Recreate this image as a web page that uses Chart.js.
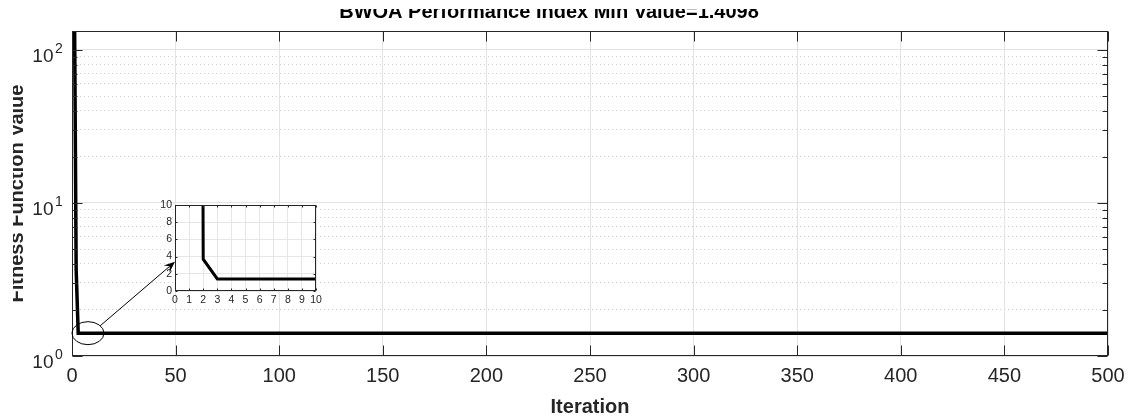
<!DOCTYPE html>
<html>
<head>
<meta charset="utf-8">
<script src="https://cdn.jsdelivr.net/npm/chart.js@4.4.1/dist/chart.umd.min.js"></script>
<style>
  html, body { margin: 0; padding: 0; background: #fff; }
  #root { position: relative; width: 1130px; height: 418px; overflow: hidden; background: #fff; }
  #clip { position: absolute; left: 13px; top: 9px; width: 1117px; height: 409px; overflow: hidden; }
  #main { position: absolute; left: -23px; top: -14px; }
  #inset { position: absolute; left: 150px; top: 195px; }
</style>
</head>
<body>
<div id="root">
  <div id="clip"><canvas id="main" width="1150" height="428"></canvas></div>
  <canvas id="inset" width="180" height="120"></canvas>
</div>
<script>
// convergence curve, breakpoints (flat after iteration 3)
const iterations = [1, 2, 3, 500];
const fitness = [520, 3.7, 1.4098, 1.4098];

const xTicks = [0, 50, 100, 150, 200, 250, 300, 350, 400, 450, 500];
const yTicks = [1, 2, 3, 4, 5, 6, 7, 8, 9, 10, 20, 30, 40, 50, 60, 70, 80, 90, 100];
const yDecades = [1, 10, 100];
const yExponents = ['0', '1', '2'];
const insetXTicks = [0, 1, 2, 3, 4, 5, 6, 7, 8, 9, 10];
const insetYTicks = [0, 2, 4, 6, 8, 10];

const titleText = 'BWOA Performance Index Min Value=1.4098';
const xLabel = 'Iteration';
const yLabel = 'Fitness Function Value';

const AX = '#262626';
const FONT = "'Liberation Sans', Arial, sans-serif";
const MAIN_OFF = { x: -10, y: -5 };   // main canvas position in the page
const INSET_POS = { x: 150, y: 195 }; // inset canvas position in the page

const points = iterations.map((x, i) => ({ x: x, y: fitness[i] }));
const isDecade = v => Math.abs(Math.log10(v) - Math.round(Math.log10(v))) < 1e-9;

let mainChart, insetChart;

function line(ctx, x1, y1, x2, y2) {
  ctx.beginPath();
  ctx.moveTo(x1, y1);
  ctx.lineTo(x2, y2);
  ctx.stroke();
}

const mainFrame = {
  id: 'mainFrame',
  afterDraw(chart) {
    const ctx = chart.ctx;
    const a = chart.chartArea;
    const xs = chart.scales.x, ys = chart.scales.y;
    const L = Math.round(a.left) + 0.5, R = Math.round(a.right) - 0.5;
    const T = Math.round(a.top) + 0.5, B = Math.round(a.bottom) - 0.5;
    ctx.save();
    ctx.strokeStyle = AX;
    ctx.lineWidth = 1;
    ctx.strokeRect(L, T, R - L, B - T);

    // inward ticks
    xTicks.forEach(v => {
      const px = Math.round(xs.getPixelForValue(v)) + 0.5;
      line(ctx, px, B, px, B - 10);
      line(ctx, px, T, px, T + 10);
    });
    yTicks.forEach(v => {
      const py = Math.round(ys.getPixelForValue(v)) + 0.5;
      const len = isDecade(v) ? 10 : 5;
      line(ctx, L, py, L + len, py);
      line(ctx, R, py, R - len, py);
    });

    // y tick labels 10^n
    ctx.fillStyle = AX;
    yDecades.forEach((v, i) => {
      const py = ys.getPixelForValue(v);
      ctx.font = '19px ' + FONT;
      ctx.textAlign = 'right';
      ctx.textBaseline = 'alphabetic';
      ctx.fillText('10', 63.5, py + 12);
      ctx.font = '14px ' + FONT;
      ctx.textAlign = 'left';
      ctx.fillText(yExponents[i], 65, py + 3);
    });

    // ellipse around the knee + arrow to the inset
    const cx = xs.getPixelForValue(7.7), cy = ys.getPixelForValue(1.41);
    const rx = 16, ry = 11.5;
    ctx.strokeStyle = '#000';
    ctx.beginPath();
    ctx.ellipse(cx, cy, rx, ry, 0, 0, Math.PI * 2);
    ctx.stroke();

    if (insetChart) {
      const tx = insetChart.scales.x.getPixelForValue(0) + INSET_POS.x - MAIN_OFF.x;
      const ty = insetChart.scales.y.getPixelForValue(3.4) + INSET_POS.y - MAIN_OFF.y;
      const ang = -40 * Math.PI / 180;
      const sx = cx + rx * Math.cos(ang), sy = cy + ry * Math.sin(ang);
      const dir = Math.atan2(ty - sy, tx - sx);
      const hl = 11, hw = 4.5, notch = 7;
      const bx = tx - hl * Math.cos(dir), by = ty - hl * Math.sin(dir);
      const nx = tx - notch * Math.cos(dir), ny = ty - notch * Math.sin(dir);
      const ox = -Math.sin(dir) * hw, oy = Math.cos(dir) * hw;
      ctx.lineWidth = 1;
      line(ctx, sx, sy, nx, ny);
      ctx.fillStyle = '#000';
      ctx.beginPath();
      ctx.moveTo(tx, ty);
      ctx.lineTo(bx + ox, by + oy);
      ctx.lineTo(nx, ny);
      ctx.lineTo(bx - ox, by - oy);
      ctx.closePath();
      ctx.fill();
    }
    ctx.restore();
  }
};

const insetFrame = {
  id: 'insetFrame',
  beforeDraw(chart) {
    const a = chart.chartArea;
    const ctx = chart.ctx;
    ctx.save();
    ctx.fillStyle = '#fff';
    ctx.fillRect(a.left, a.top, a.right - a.left, a.bottom - a.top);
    ctx.restore();
  },
  afterDraw(chart) {
    const ctx = chart.ctx;
    const a = chart.chartArea;
    const xs = chart.scales.x, ys = chart.scales.y;
    const L = Math.round(a.left) + 0.5, R = Math.round(a.right) - 0.5;
    const T = Math.round(a.top) + 0.5, B = Math.round(a.bottom) - 0.5;
    ctx.save();
    ctx.strokeStyle = AX;
    ctx.lineWidth = 1;
    ctx.strokeRect(L, T, R - L, B - T);
    insetXTicks.forEach(v => {
      const px = Math.round(xs.getPixelForValue(v)) + 0.5;
      line(ctx, px, B, px, B - 2);
      line(ctx, px, T, px, T + 2);
    });
    insetYTicks.forEach(v => {
      const py = Math.round(ys.getPixelForValue(v)) + 0.5;
      line(ctx, L, py, L + 2, py);
      line(ctx, R, py, R - 2, py);
    });
    ctx.restore();
  }
};

mainChart = new Chart(document.getElementById('main'), {
  type: 'line',
  data: {
    datasets: [{
      data: points,
      borderColor: '#000',
      borderWidth: 3.5,
      pointRadius: 0,
      fill: false,
      tension: 0
    }]
  },
  options: {
    responsive: false,
    animation: false,
    events: [],
    layout: { padding: { left: 0, right: 32, top: 0, bottom: 0 } },
    plugins: {
      legend: { display: false },
      tooltip: { enabled: false },
      title: {
        display: true,
        text: titleText,
        color: '#000',
        font: { family: FONT, size: 20, weight: 'bold' },
        padding: { top: 5, bottom: 7 }
      }
    },
    scales: {
      x: {
        type: 'linear',
        min: 0,
        max: 500,
        afterBuildTicks: s => { s.ticks = xTicks.map(v => ({ value: v })); },
        afterFit: s => { s.height = 67; },
        grid: { color: '#e3e3e3', lineWidth: 1, drawTicks: false },
        border: { display: false },
        ticks: { color: AX, font: { family: FONT, size: 20 }, padding: 8, autoSkip: false, maxRotation: 0 },
        title: {
          display: true,
          text: xLabel,
          color: AX,
          font: { family: FONT, size: 20, weight: 'bold' },
          padding: { top: 0, bottom: 4 }
        }
      },
      y: {
        type: 'logarithmic',
        position: 'left',
        min: 1,
        max: 133,
        afterBuildTicks: s => { s.ticks = yTicks.map(v => ({ value: v })); },
        afterFit: s => { s.width = 82; },
        grid: { color: c => isDecade(c.tick.value) ? '#e3e3e3' : 'rgba(0,0,0,0)', drawTicks: false },
        border: { display: false },
        ticks: { display: false, autoSkip: false },
        title: {
          display: true,
          text: yLabel,
          color: AX,
          font: { family: FONT, size: 20, weight: 'bold' },
          padding: { top: 15, bottom: 0 }
        }
      },
      yMinor: {
        type: 'logarithmic',
        position: 'left',
        min: 1,
        max: 133,
        afterBuildTicks: s => { s.ticks = yTicks.map(v => ({ value: v })); },
        afterFit: s => { s.width = 0; },
        grid: { color: c => isDecade(c.tick.value) ? 'rgba(0,0,0,0)' : '#cfcfcf', drawTicks: false, lineWidth: 1 },
        border: { display: false, dash: [1, 3] },
        ticks: { display: false, autoSkip: false }
      }
    }
  },
  plugins: [mainFrame]
});

insetChart = new Chart(document.getElementById('inset'), {
  type: 'line',
  data: {
    datasets: [{
      data: points,
      borderColor: '#000',
      borderWidth: 3,
      pointRadius: 0,
      fill: false,
      tension: 0,
      clip: 0
    }]
  },
  options: {
    responsive: false,
    animation: false,
    events: [],
    layout: { padding: { left: 0, right: 14, top: 10, bottom: 0 } },
    plugins: { legend: { display: false }, tooltip: { enabled: false } },
    scales: {
      x: {
        type: 'linear',
        min: 0,
        max: 10,
        afterBuildTicks: s => { s.ticks = insetXTicks.map(v => ({ value: v })); },
        afterFit: s => { s.height = 24; },
        grid: { color: '#e6e6e6', drawTicks: false },
        border: { display: false },
        ticks: { color: AX, font: { family: FONT, size: 10.5 }, padding: 3, autoSkip: false, maxRotation: 0 }
      },
      y: {
        type: 'linear',
        min: 0,
        max: 10,
        afterBuildTicks: s => { s.ticks = insetYTicks.map(v => ({ value: v })); },
        afterFit: s => { s.width = 25; },
        grid: { color: '#e6e6e6', drawTicks: false },
        border: { display: false },
        ticks: { color: AX, font: { family: FONT, size: 10.5 }, padding: 3, autoSkip: false }
      }
    }
  },
  plugins: [insetFrame]
});

// redraw main so the arrow can reach the inset axes
mainChart.draw();
</script>
</body>
</html>
